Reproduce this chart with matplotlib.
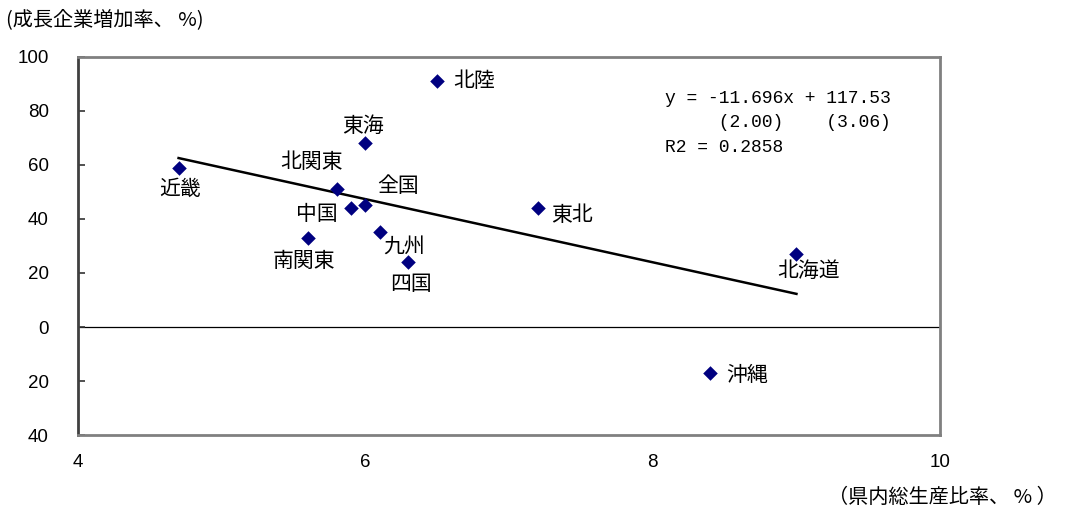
import matplotlib.pyplot as plt

plt.rcParams['font.family'] = ['Noto Sans CJK JP', 'DejaVu Sans']

# data
regions = ["近畿", "北陸", "東海", "北関東", "中国", "全国", "九州", "南関東", "四国", "東北", "北海道", "沖縄"]
gdp_ratio = [4.7, 6.5, 6.0, 5.8, 5.9, 6.0, 6.1, 5.6, 6.3, 7.2, 9.0, 8.4]
growth_rate = [59, 91, 68, 51, 44, 45, 35, 33, 24, 44, 27, -17]

slope = -11.696
intercept = 117.53
trend_x = [4.7, 9.0]

y_ticks = [100, 80, 60, 40, 20, 0, -20, -40]
y_ticklabels = ["100", "80", "60", "40", "20", "0", "20", "40"]
x_ticks = [4, 6, 8, 10]

# label offsets in pixels (dx, dy, ha)
label_pos = {
    "近畿": (1, -21, "center"),
    "北陸": (16, 0, "left"),
    "東海": (-2, 17, "center"),
    "北関東": (-25, 27, "center"),
    "中国": (-34, -6, "center"),
    "全国": (33, 19, "center"),
    "九州": (24, -14, "center"),
    "南関東": (-4, -23, "center"),
    "四国": (3, -22, "center"),
    "東北": (34, -7, "center"),
    "北海道": (12, -17, "center"),
    "沖縄": (16, -2, "left"),
}

fig = plt.figure(figsize=(10.67, 5.13), dpi=100)
ax = fig.add_axes([0.0731, 0.152, 0.808, 0.737])

ax.axhline(0, color="black", lw=0.9, zorder=1)
trend_y = [slope * x + intercept for x in trend_x]
ax.plot(trend_x, trend_y, color="black", lw=1.8, zorder=2)
ax.scatter(gdp_ratio, growth_rate, marker="D", s=55, color="#000080", zorder=3, linewidths=0)

for name, x, y in zip(regions, gdp_ratio, growth_rate):
    dx, dy, ha = label_pos[name]
    ax.annotate(name, (x, y), xytext=(dx, dy), textcoords="offset pixels",
                ha=ha, va="center", fontsize=15)

ax.text(0.681, 0.912, "y = -11.696x + 117.53\n     (2.00)    (3.06)\nR2 = 0.2858",
        transform=ax.transAxes, family="Liberation Mono", fontsize=13,
        va="top", ha="left", linespacing=1.55)

ax.set_xlim(4, 10)
ax.set_ylim(-40, 100)
ax.set_xticks(x_ticks)
ax.set_xticklabels([str(t) for t in x_ticks], family="Liberation Sans", fontsize=13.5)
ax.set_yticks(y_ticks)
ax.set_yticklabels(y_ticklabels, family="Liberation Sans", fontsize=13.5)
ax.tick_params(axis="y", direction="in", length=5, width=1.2, color="#333333", pad=21)
ax.tick_params(axis="x", length=0, pad=14)

for s in ["top", "right", "bottom"]:
    ax.spines[s].set_color("#808080")
    ax.spines[s].set_linewidth(2)
ax.spines["left"].set_color("#404040")
ax.spines["left"].set_linewidth(2)

fig.text(0.006, 0.961, "(成長企業増加率、 %)", fontsize=14.5, va="center", ha="left")
fig.text(0.99, 0.031, "（県内総生産比率、 % ）", fontsize=14.5, va="center", ha="right")

fig.savefig("out.png", dpi=100)
